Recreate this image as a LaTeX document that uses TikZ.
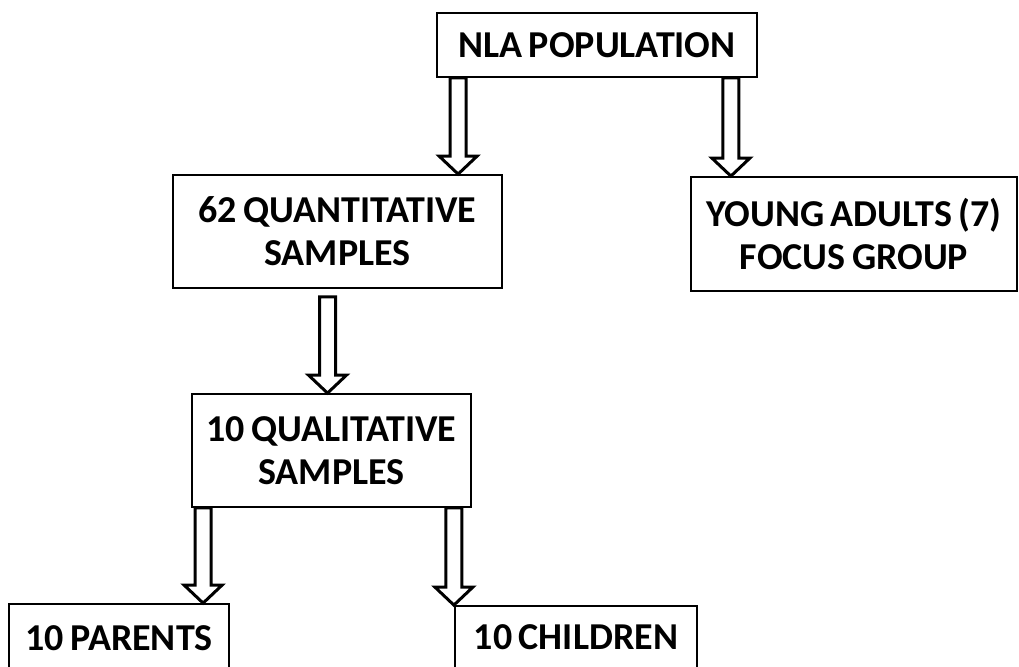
\documentclass[tikz,border=0pt]{standalone}
\usepackage{fontspec}
\setmainfont{Carlito}[WordSpace=0.75]
\usepackage{tikz}
\usetikzlibrary{calc}
\tikzset{box/.style = {draw, line width=1.8pt, align=center, inner sep=0pt,
                       font=\bfseries\fontsize{38}{43}\selectfont}}
\tikzset{hollow/.style = {line width=3pt, line join=miter,
    to path={let \p1=(\tikztostart), \p2=(\tikztotarget) in
      ({\x1-8pt},\y1) -- ({\x1-8pt},{\y2+18pt}) -- ({\x1-19pt},{\y2+18pt}) -- (\x1,\y2)
      -- ({\x1+19pt},{\y2+18pt}) -- ({\x1+8pt},{\y2+18pt}) -- ({\x1+8pt},\y1) -- cycle}}}
\begin{document}
\begin{tikzpicture}[x=1pt,y=-1pt]
                    \clip (0,0) rectangle (1019,666);
                    \node[box,minimum width=320pt,minimum height=64pt] (nla) at (597,45) {NLA POPULATION};
                    \node[box,minimum width=329pt,minimum height=113pt] (q62) at (337.5,231.5) {62 QUANTITATIVE\\SAMPLES};
                    \node[box,minimum width=326pt,minimum height=114pt] (ya) at (854,234) {YOUNG ADULTS (7)\\FOCUS GROUP};
                    \node[box,minimum width=279pt,minimum height=113pt] (q10) at (331.5,450.5) {10 QUALITATIVE\\SAMPLES};
                    \node[box,minimum width=220pt,minimum height=68pt] (par) at (119,638) {10 PARENTS};
                    \node[box,minimum width=242pt,minimum height=62pt] (ch) at (576,637) {10 CHILDREN};

                    \draw[hollow] ([xshift=22pt]nla.south west) to (q62.north);
                    \draw[hollow] ([xshift=-27pt]nla.south east) to (ya.north);
                    \draw[hollow] ([xshift=-10pt,yshift=-8pt]q62.south) to (q10.north);
                    \draw[hollow] ([xshift=12pt]q10.south west) to (par.north);
                    \draw[hollow] ([xshift=-18pt]q10.south east) to (ch.north);
                \end{tikzpicture}
\end{document}
